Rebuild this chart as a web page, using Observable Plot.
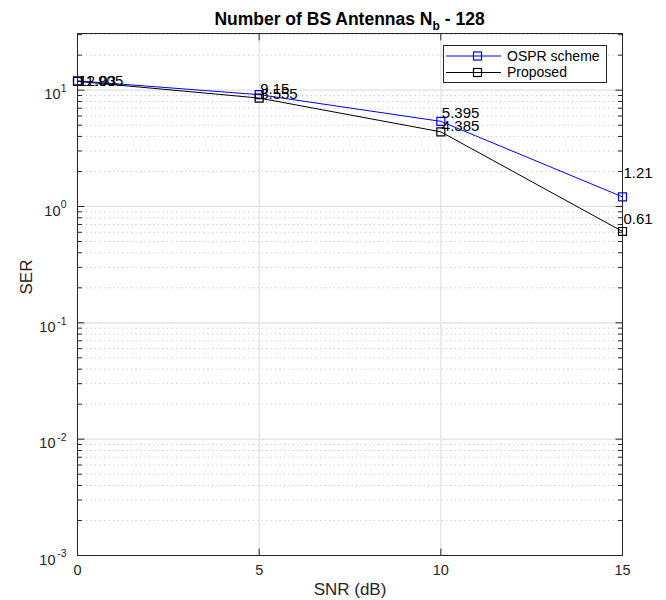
<!DOCTYPE html>
<html><head><meta charset="utf-8">
<script src="https://cdn.jsdelivr.net/npm/d3@7"></script>
<script src="https://cdn.jsdelivr.net/npm/@observablehq/plot@0.6"></script>
<style>
body{margin:0;background:#fff;}
#wrap{position:relative;width:666px;height:600px;font-family:"Liberation Sans",Arial,sans-serif;}
#wrap svg{position:absolute;left:0;top:0;}
#title{position:absolute;z-index:2;left:0;width:699px;top:9px;text-align:center;font-weight:bold;font-size:17.5px;line-height:20px;color:#000;}
#title sub{font-size:12px;vertical-align:-5px;line-height:0;}
</style></head><body>
<div id="wrap"><div id="title">Number of BS Antennas N<sub>b</sub> - 128</div></div>
<script>
// ---- data ----
const snr = [0, 5, 10, 15];
const osprSER = [12.03, 9.15, 5.395, 1.21];
const proposedSER = [11.905, 8.555, 4.385, 0.61];
const osprLabelAt = [12.03, 10.24, 6.32, 1.93];
const proposedLabelAt = [11.905, 9.15, 4.89, 0.784];
const seriesNames = ["OSPR scheme", "Proposed"];
const seriesColors = ["#0000ff", "#000000"];
const xTicks = [0, 5, 10, 15];
const yDecadesPos = [1, 10];
const yDecadesNeg = [1e-3, 1e-2, 1e-1];
const yDomain = [1e-3, 30.7];
const xLabel = "SNR (dB)";
const yLabel = "SER";

// ---- derived ----
const yDecades = [...yDecadesNeg, ...yDecadesPos];
const minor = [];
for (const d of yDecades) for (let k = 2; k <= 9; k++) if (d * k <= yDomain[1]) minor.push(d * k);
const rows = [];
snr.forEach((x, i) => {
  rows.push({series: seriesNames[0], x, y: osprSER[i], ly: osprLabelAt[i]});
  rows.push({series: seriesNames[1], x, y: proposedSER[i], ly: proposedLabelAt[i]});
});
const s0 = rows.filter(r => r.series === seriesNames[0]);
const s1 = rows.filter(r => r.series === seriesNames[1]);
const fmtExp = d => String(Math.round(Math.log10(d)));
const tickShape = {draw(ctx, l) { ctx.moveTo(0, 0); ctx.lineTo(0, -l); }};
const axisCol = "#262626";
const tk = (data, opts, len) => Plot.vector(data, {length: len, anchor: "start", shape: tickShape, stroke: axisCol, strokeWidth: 1, ...opts});

const plot = Plot.plot({
  width: 666, height: 600,
  marginLeft: 77, marginRight: 44, marginTop: 33, marginBottom: 45,
  style: {fontFamily: "'Liberation Sans', Arial, sans-serif", background: "white", color: axisCol},
  x: {domain: [0, 15], axis: null},
  y: {type: "log", domain: yDomain, axis: null},
  marks: [
    Plot.ruleY(minor, {y: d => d, stroke: "#c8c8c8", strokeDasharray: "1.2,3.3", strokeWidth: 1}),
    Plot.ruleY(yDecades, {y: d => d, stroke: "#e0e0e0", strokeWidth: 1.2}),
    Plot.ruleX(xTicks, {x: d => d, stroke: "#e0e0e0", strokeWidth: 1.2}),
    // ticks (inward)
    tk(xTicks, {x: d => d, y: () => yDomain[0], rotate: 0}, 6.5),
    tk(xTicks, {x: d => d, y: () => yDomain[1], rotate: 180}, 6.5),
    tk(yDecades, {y: d => d, x: () => 0, rotate: 90}, 6.5),
    tk(yDecades, {y: d => d, x: () => 15, rotate: -90}, 6.5),
    tk(minor, {y: d => d, x: () => 0, rotate: 90}, 4),
    tk(minor, {y: d => d, x: () => 15, rotate: -90}, 4),
    Plot.frame({stroke: axisCol, strokeWidth: 1}),
    // series
    Plot.line(s0, {x: "x", y: "y", stroke: seriesColors[0], strokeWidth: 1}),
    Plot.dot(s0, {x: "x", y: "y", symbol: "square", r: 4.5, stroke: seriesColors[0], fill: "none", strokeWidth: 1.2}),
    Plot.line(s1, {x: "x", y: "y", stroke: seriesColors[1], strokeWidth: 1}),
    Plot.dot(s1, {x: "x", y: "y", symbol: "square", r: 4.5, stroke: seriesColors[1], fill: "none", strokeWidth: 1.2}),
    Plot.text(s0, {x: "x", y: "ly", text: d => String(d.y), textAnchor: "start", dx: 1, fontSize: 15, fill: "#000"}),
    Plot.text(s1, {x: "x", y: "ly", text: d => String(d.y), textAnchor: "start", dx: 1, fontSize: 15, fill: "#000"}),
    // tick labels
    Plot.text(xTicks, {x: d => d, frameAnchor: "bottom", dy: 19, text: d => String(d), fontSize: 14.5, fill: axisCol}),
    Plot.text(yDecadesPos, {y: d => d, frameAnchor: "left", dx: -17, dy: 4.5, text: () => "10", textAnchor: "end", fontSize: 14.5, fill: axisCol}),
    Plot.text(yDecadesNeg, {y: d => d, frameAnchor: "left", dx: -22, dy: 4.5, text: () => "10", textAnchor: "end", fontSize: 14.5, fill: axisCol}),
    Plot.text(yDecades, {y: d => d, frameAnchor: "left", dx: -11, dy: -1.5, text: fmtExp, textAnchor: "end", fontSize: 10.5, fill: axisCol}),
    // axis labels
    Plot.text([xLabel], {frameAnchor: "bottom", dy: 39, text: d => d, fontSize: 17, fill: axisCol}),
    Plot.text([yLabel], {frameAnchor: "left", dx: -51, rotate: -90, text: d => d, fontSize: 17, fill: axisCol})
  ]
});
document.getElementById("wrap").appendChild(plot);

// ---- legend ----
const svg = d3.select(plot);
const lg = svg.append("g").attr("font-family", "'Liberation Sans', Arial, sans-serif").attr("font-size", 14).attr("text-anchor", "start");
lg.append("rect").attr("x", 443.5).attr("y", 45.5).attr("width", 163).attr("height", 37)
  .attr("fill", "white").attr("stroke", axisCol).attr("stroke-width", 1);
seriesNames.forEach((name, i) => {
  const cy = 56 + i * 16.5;
  lg.append("line").attr("x1", 446).attr("x2", 501).attr("y1", cy).attr("y2", cy)
    .attr("stroke", seriesColors[i]).attr("stroke-width", 1);
  lg.append("rect").attr("x", 473.5).attr("y", cy - 4).attr("width", 8).attr("height", 8)
    .attr("fill", "none").attr("stroke", seriesColors[i]).attr("stroke-width", 1.2);
  lg.append("text").attr("x", 507).attr("y", cy).attr("dy", "0.35em").attr("text-anchor", "start").attr("fill", "#000").text(name);
});
</script>
</body></html>
